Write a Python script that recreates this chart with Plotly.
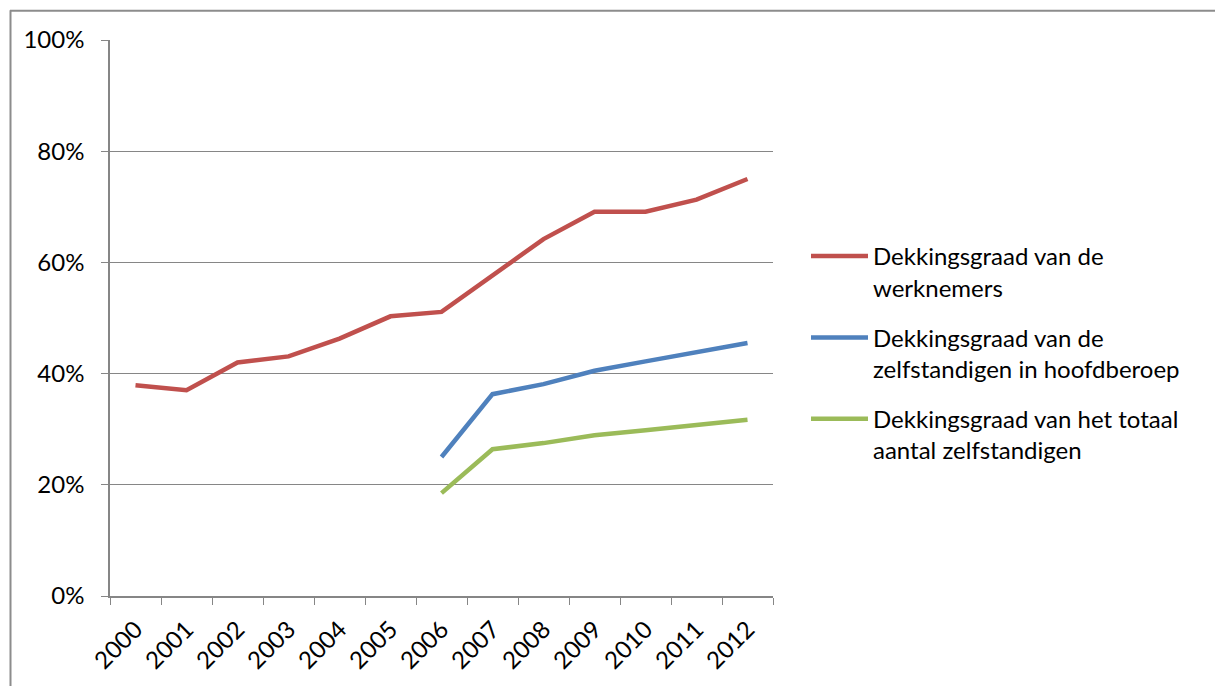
import plotly.graph_objects as go

years = [str(y) for y in range(2000, 2013)]
werknemers = [37.9, 37.0, 42.0, 43.1, 46.3, 50.3, 51.1, 57.7, 64.2, 69.1, 69.1, 71.3, 75.0]
hoofdberoep_years = years[6:]
hoofdberoep = [25.0, 36.3, 38.1, 40.5, 42.2, 43.8, 45.5]
totaal_years = years[6:]
totaal = [18.5, 26.4, 27.5, 28.9, 29.8, 30.8, 31.7]

names = [
    "Dekkingsgraad van de<br>werknemers",
    "Dekkingsgraad van de<br>zelfstandigen in hoofdberoep",
    "Dekkingsgraad van het totaal<br>aantal zelfstandigen",
]
colors = ["#C0504D", "#4F81BD", "#9BBB59"]

fig = go.Figure()
for i, (x, y, n, c) in enumerate([(years, werknemers, names[0], colors[0]),
                   (hoofdberoep_years, hoofdberoep, names[1], colors[1]),
                   (totaal_years, totaal, names[2], colors[2])]):
    fig.add_trace(go.Scatter(x=x, y=y, name=n, mode="lines", legendgroup=f"g{i}",
                             line=dict(color=c, width=4.5)))

FONT = "Lato"
FS = 24
fig.update_layout(
    width=1215, height=686,
    margin=dict(l=110, r=442, t=40, b=87),
    paper_bgcolor="white", plot_bgcolor="white",
    font=dict(family=FONT, size=FS, color="black"),
    showlegend=True,
    legend=dict(x=(806-110)/663, xanchor="left", y=(599-235)/559, yanchor="top",
                valign="top", tracegroupgap=16, itemwidth=57,
                font=dict(family=FONT, size=FS, color="black"),
                bgcolor="rgba(0,0,0,0)"),
    xaxis=dict(type="category", categoryorder="array", categoryarray=years,
               tickson="boundaries", ticks="outside", ticklen=7,
               tickcolor="#868686", showline=True, linecolor="#868686",
               linewidth=1.5, showgrid=False, tickangle=-45,
               ticklabelstandoff=8,
               tickfont=dict(family=FONT, size=FS), range=[-0.5, 12.5]),
    yaxis=dict(range=[0, 100], tickvals=[0, 20, 40, 60, 80, 100],
               ticktext=["0%", "20%", "40%", "60%", "80%", "100%"],
               ticks="outside", ticklen=7, tickcolor="#868686",
               ticklabelstandoff=12,
               showline=True, linecolor="#868686", linewidth=1.5,
               showgrid=True, gridcolor="#868686", gridwidth=1.2,
               zeroline=False, tickfont=dict(family=FONT, size=FS)),
)
# outer chart border (top and left, as in the cropped reference)
fig.add_shape(type="line", xref="paper", yref="paper",
              x0=-100/663, x1=1105/663, y0=(599-10.5)/559, y1=(599-10.5)/559,
              line=dict(color="#8C8C8C", width=2))
fig.add_shape(type="line", xref="paper", yref="paper",
              x0=-99.5/663, x1=-99.5/663, y0=(599-10)/559, y1=-1,
              line=dict(color="#8C8C8C", width=2))
fig.write_html("out.html")
